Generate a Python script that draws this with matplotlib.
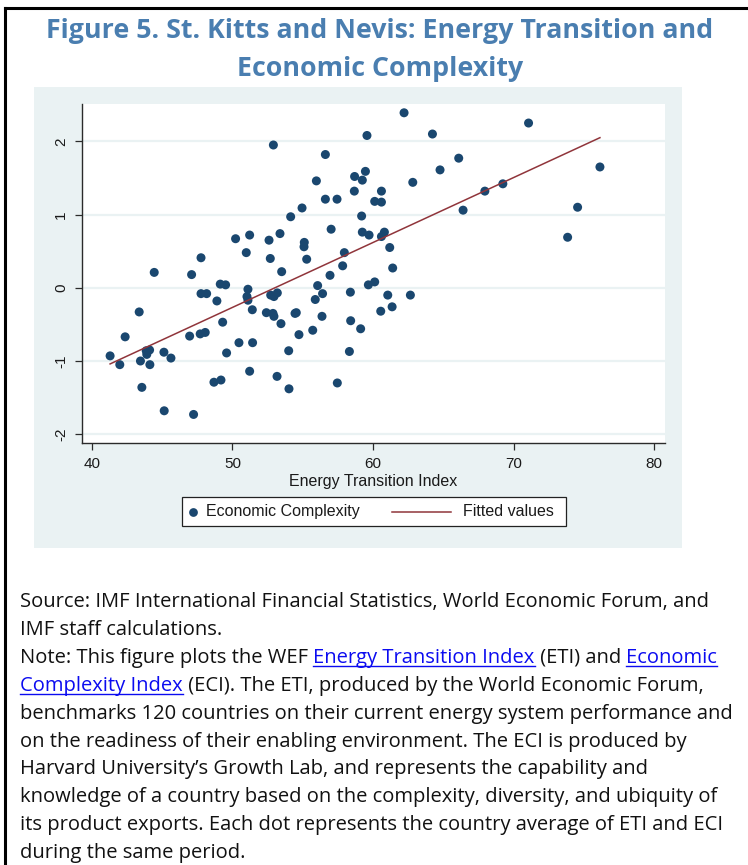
"""Figure 5: St. Kitts and Nevis, energy transition vs economic complexity."""

import matplotlib
matplotlib.use('Agg')
import matplotlib.pyplot as plt
from matplotlib.lines import Line2D
from matplotlib.patches import Rectangle

# data (ETI, ECI)
eti = [41.29, 41.98, 42.36, 43.36, 44.43, 43.45, 43.55, 43.86, 44.10, 43.90,
       44.12, 45.12, 45.62, 45.14, 46.95, 47.09, 47.76, 47.23, 47.76, 48.16,
       47.70, 48.06, 48.89, 49.13, 49.51, 49.30, 48.68, 49.18, 49.58, 50.22,
       51.22, 50.98, 50.46, 51.10, 51.03, 51.10, 51.41, 51.43, 51.22, 52.91,
       52.60, 52.69, 53.38, 53.50, 52.72, 52.95, 53.19, 52.41, 52.88, 52.95,
       53.45, 54.00, 53.17, 54.02, 54.14, 54.95, 55.11, 55.09, 55.28, 54.45,
       54.54, 54.73, 55.97, 56.61, 56.61, 57.44, 57.02, 56.06, 55.89, 56.41,
       56.37, 55.71, 56.94, 57.46, 57.96, 57.84, 58.39, 58.41, 59.12, 58.32,
       58.69, 59.46, 59.24, 58.67, 59.57, 59.19, 59.24, 59.72, 59.67, 60.12,
       60.12, 62.21, 64.23, 71.07, 66.10, 64.77, 62.83, 60.60, 60.60, 66.41,
       67.96, 69.24, 76.15, 74.56, 73.85, 60.60, 60.81, 61.19, 61.40, 61.05,
       62.66, 61.36, 60.55]
eci = [-0.93, -1.05, -0.67, -0.33, 0.21, -1.00, -1.36, -0.86, -0.85, -0.91,
       -1.05, -0.88, -0.96, -1.68, -0.66, 0.18, 0.41, -1.73, -0.08, -0.08,
       -0.63, -0.61, -0.18, 0.05, 0.04, -0.47, -1.29, -1.26, -0.89, 0.67,
       0.72, 0.48, -0.75, -0.02, -0.12, -0.17, -0.30, -0.75, -1.14, 1.95,
       0.65, 0.40, 0.74, 0.22, -0.10, -0.12, -0.07, -0.34, -0.35, -0.39,
       -0.49, -0.86, -1.21, -1.38, 0.97, 1.09, 0.62, 0.56, 0.39, -0.35,
       -0.34, -0.64, 1.46, 1.82, 1.21, 1.21, 0.80, 0.03, -0.16, -0.08,
       -0.39, -0.58, 0.17, -1.30, 0.48, 0.30, -0.06, -0.45, -0.56, -0.87,
       1.52, 1.59, 1.47, 1.32, 2.08, 0.98, 0.76, 0.72, 0.04, 0.08,
       1.18, 2.39, 2.10, 2.25, 1.77, 1.61, 1.44, 1.32, 1.17, 1.06,
       1.32, 1.42, 1.65, 1.10, 0.69, 0.70, 0.76, 0.55, 0.27, -0.10,
       -0.10, -0.26, -0.32]

# fitted values line (end points as drawn)
fit_eti = [41.29, 76.15]
fit_eci = [-1.04, 2.05]

x_ticks = [40, 50, 60, 70, 80]
y_ticks = [-2, -1, 0, 1, 2]

NAVY = '#1a476f'
MAROON = '#90353b'
STATA_BG = '#eaf2f3'
TITLE_BLUE = '#4a7eb0'
LINK = '#0b0bf0'

W, H = 748, 865
fig = plt.figure(figsize=(W / 100, H / 100), dpi=100)
fig.patch.set_facecolor('white')


def fx(px):
    return px / W


def fy(py):
    return 1 - py / H


# page frame (left + top edges visible)
fig.add_artist(Line2D([fx(5), fx(5)], [fy(8), 0], color='black', lw=2.2))
fig.add_artist(Line2D([fx(5), 1], [fy(8), fy(8)], color='black', lw=2.2))

# title
fig.text(fx(380), fy(31), 'Figure 5. St. Kitts and Nevis: Energy Transition and',
         ha='center', va='center', fontsize=19.3, fontweight='bold',
         family='Open Sans', color=TITLE_BLUE)
fig.text(fx(380), fy(69), 'Economic Complexity',
         ha='center', va='center', fontsize=19.3, fontweight='bold',
         family='Open Sans', color=TITLE_BLUE)

# Stata graph region
fig.add_artist(Rectangle((fx(34), fy(548)), fx(682 - 34), (548 - 87) / H,
                         facecolor=STATA_BG, edgecolor='none', zorder=0))

ax = fig.add_axes([fx(82), fy(443), fx(665 - 82), (443 - 104) / H])
ax.set_facecolor('white')
ax.set_xlim(39.29, 80.78)
ax.set_ylim(-2.12, 2.51)

for yt in y_ticks:
    ax.axhline(yt, color=STATA_BG, lw=1.6, zorder=0)

ax.scatter(eti, eci, s=42, color=NAVY, edgecolors='none', zorder=3)
ax.plot(fit_eti, fit_eci, color=MAROON, lw=1.1, zorder=4)

for side in ['top', 'right']:
    ax.spines[side].set_visible(False)
for side in ['left', 'bottom']:
    ax.spines[side].set_color('#2b2b2b')
    ax.spines[side].set_linewidth(1.0)

ax.set_xticks(x_ticks)
ax.set_yticks(y_ticks)
ax.set_yticklabels([str(v) for v in y_ticks], rotation=90, va='center')
ax.tick_params(direction='out', length=5, width=0.9, color='#2b2b2b',
               labelsize=11, labelcolor='#1a1a1a', pad=5)
for lab in ax.get_xticklabels() + ax.get_yticklabels():
    lab.set_family('Liberation Sans')
ax.set_xlabel('Energy Transition Index', family='Liberation Sans',
              fontsize=11.5, color='#1a1a1a', labelpad=2)

# legend (Stata style box below the axis)
fig.add_artist(Rectangle((fx(182), fy(526)), fx(566 - 182), (526 - 497) / H,
                         facecolor='white', edgecolor='#222222', lw=0.9, zorder=2))
fig.add_artist(Line2D([fx(193)], [fy(511.5)], marker='o', ms=6.3, color=NAVY,
                      mec='none', zorder=3))
fig.text(fx(206), fy(511.5), 'Economic Complexity', ha='left', va='center',
         family='Liberation Sans', fontsize=11.5, color='#1a1a1a', zorder=3)
fig.add_artist(Line2D([fx(392), fx(451)], [fy(511.5), fy(511.5)], color=MAROON,
                      lw=1.1, zorder=3))
fig.text(fx(463), fy(511.5), 'Fitted values', ha='left', va='center',
         family='Liberation Sans', fontsize=11.5, color='#1a1a1a', zorder=3)

# source / note block, link words in blue with underline
note_lines = [
    [('Source: IMF International Financial Statistics, World Economic Forum, and', False)],
    [('IMF staff calculations.', False)],
    [('Note: This figure plots the WEF ', False), ('Energy Transition Index', True),
     (' (ETI) and ', False), ('Economic', True)],
    [('Complexity Index', True),
     (' (ECI). The ETI, produced by the World Economic Forum,', False)],
    [('benchmarks 120 countries on their current energy system performance and', False)],
    [('on the readiness of their enabling environment. The ECI is produced by', False)],
    [('Harvard University\u2019s Growth Lab, and represents the capability and', False)],
    [('knowledge of a country based on the complexity, diversity, and ubiquity of', False)],
    [('its product exports. Each dot represents the country average of ETI and ECI', False)],
    [('during the same period.', False)],
]

renderer = fig.canvas.get_renderer()
base0, step = 607, 27.9
for i, parts in enumerate(note_lines):
    x = 20.0
    yb = base0 + i * step
    for txt, link in parts:
        t = fig.text(fx(x), fy(yb), txt, ha='left', va='baseline',
                     family='Open Sans', fontsize=14.5,
                     color=LINK if link else '#111111')
        bb = t.get_window_extent(renderer)
        if link:
            fig.add_artist(Line2D([fx(bb.x0), fx(bb.x1)], [fy(yb + 3), fy(yb + 3)],
                                  color=LINK, lw=1.0))
        x = bb.x1

fig.savefig('out.png', dpi=100)
